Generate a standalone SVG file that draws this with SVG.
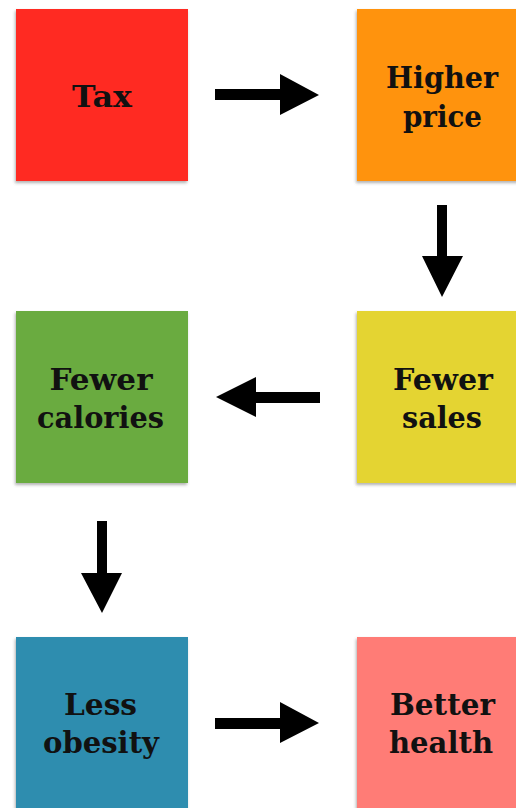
<svg xmlns="http://www.w3.org/2000/svg" width="516" height="808" viewBox="0 0 516 808">
<defs>
<filter id="sh" x="-10%" y="-10%" width="120%" height="120%">
<feDropShadow dx="-1" dy="2" stdDeviation="1.6" flood-color="#555" flood-opacity="0.45"/>
</filter>
</defs>
<style>
.box{filter:url(#sh);}
.lbl{font-family:"DejaVu Serif","Liberation Serif",serif;font-weight:bold;font-size:30px;fill:#111;text-anchor:middle;}
.arr{fill:#000;}
</style>
<rect width="516" height="808" fill="#fff"/>
<g id="tax">
<rect class="box" x="16" y="9" width="172" height="172" fill="#FF2B23"/>
<text class="lbl" x="102" y="107" textLength="60" lengthAdjust="spacingAndGlyphs">Tax</text>
</g>
<g id="higher-price">
<rect class="box" x="357" y="9" width="172" height="172" fill="#FF9307"/>
<text class="lbl" x="442" y="88" textLength="112" lengthAdjust="spacingAndGlyphs">Higher</text>
<text class="lbl" x="442.5" y="127" textLength="79" lengthAdjust="spacingAndGlyphs">price</text>
</g>
<g id="fewer-sales">
<rect class="box" x="357" y="311" width="172" height="172" fill="#E4D431"/>
<text class="lbl" x="443" y="390" textLength="100" lengthAdjust="spacingAndGlyphs">Fewer</text>
<text class="lbl" x="442" y="428" textLength="80" lengthAdjust="spacingAndGlyphs">sales</text>
</g>
<g id="fewer-calories">
<rect class="box" x="16" y="311" width="172" height="172" fill="#6BAB3F"/>
<text class="lbl" x="101" y="390" textLength="103" lengthAdjust="spacingAndGlyphs">Fewer</text>
<text class="lbl" x="100.5" y="428" textLength="127" lengthAdjust="spacingAndGlyphs">calories</text>
</g>
<g id="less-obesity">
<rect class="box" x="16" y="637" width="172" height="180" fill="#2F8DAF"/>
<text class="lbl" x="100.5" y="715" textLength="73" lengthAdjust="spacingAndGlyphs">Less</text>
<text class="lbl" x="101" y="753" textLength="116" lengthAdjust="spacingAndGlyphs">obesity</text>
</g>
<g id="better-health">
<rect class="box" x="357" y="637" width="172" height="180" fill="#FF7B76"/>
<text class="lbl" x="442.5" y="715" textLength="105" lengthAdjust="spacingAndGlyphs">Better</text>
<text class="lbl" x="441" y="753" textLength="104" lengthAdjust="spacingAndGlyphs">health</text>
</g>
<g id="connectors">
<polygon class="arr" points="215,89 280,89 280,74 319,95 280,115 280,100 215,100"/>
<polygon class="arr" points="437,205 447,205 447,256 463,256 442,297 422,256 437,256"/>
<polygon class="arr" points="320,392 256,392 256,377 216,397 256,417 256,403 320,403"/>
<polygon class="arr" points="97,521 107,521 107,573 122,573 102,613 81,573 97,573"/>
<polygon class="arr" points="215,718 280,718 280,702 319,723 280,743 280,729 215,729"/>
</g>
</svg>
